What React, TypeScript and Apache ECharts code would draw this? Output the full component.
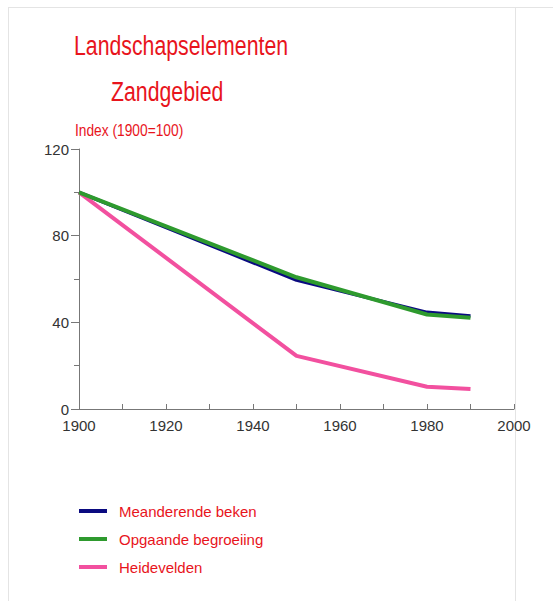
import React, { useEffect, useRef } from "react";
import * as echarts from "echarts";

const years = [1900, 1950, 1980, 1990];
const meanderendeBeken = [100, 59.5, 44.6, 42.9];
const opgaandeBegroeiing = [100, 60.8, 43.6, 42.1];
const heidevelden = [100, 24.5, 10.3, 9.2];
const seriesNames = ["Meanderende beken", "Opgaande begroeiing", "Heidevelden"];
const colors = ["#0a0a80", "#2e9a2e", "#f2509f"];

const FONT = "'Liberation Sans', Arial, sans-serif";

export default function App() {
  const ref = useRef<HTMLDivElement>(null);
  useEffect(() => {
    if (!ref.current) return;
    const chart = echarts.init(ref.current, undefined, { renderer: "svg" });
    const mk = (vals: number[]) => years.map((y, i) => [y, vals[i]]);
    const allData = [meanderendeBeken, opgaandeBegroeiing, heidevelden];
    chart.setOption({
      animation: false,
      backgroundColor: "#ffffff",
      grid: { left: 79, right: 46, top: 149, bottom: 192, containLabel: false },
      xAxis: {
        type: "value",
        min: 1900,
        max: 2000,
        interval: 20,
        axisLine: { show: true, lineStyle: { color: "#777", width: 1 } },
        axisTick: { show: true, inside: true, length: 5, lineStyle: { color: "#777" } },
        minorTick: { show: true, splitNumber: 2, length: 5, lineStyle: { color: "#777" } },
        splitLine: { show: false },
        axisLabel: { color: "#333", fontFamily: FONT, fontSize: 15, margin: 9, formatter: (v: number) => String(v) },
      },
      yAxis: {
        type: "value",
        min: 0,
        max: 120,
        interval: 40,
        axisLine: { show: true, lineStyle: { color: "#777", width: 1 } },
        axisTick: { show: true, inside: false, length: 8, lineStyle: { color: "#777" } },
        minorTick: { show: true, splitNumber: 2, length: 5, lineStyle: { color: "#777" } },
        splitLine: { show: false },
        axisLabel: { color: "#333", fontFamily: FONT, fontSize: 15, margin: 10 },
      },
      legend: {
        orient: "vertical",
        left: 79,
        top: 501,
        padding: 0,
        icon: "rect",
        itemWidth: 28,
        itemHeight: 4,
        itemGap: 8,
        textStyle: { color: "#e8141c", fontFamily: FONT, fontSize: 15, lineHeight: 20, padding: [0, 0, 0, 7] },
        data: seriesNames,
      },
      series: seriesNames.map((name, i) => ({
        name,
        type: "line",
        data: mk(allData[i]),
        symbol: "none",
        color: colors[i],
        lineStyle: { color: colors[i], width: i === 0 ? 3.5 : 4 },
        z: i === 1 ? 3 : 2,
      })),
      graphic: [
        { type: "line", shape: { x1: 8, y1: 7.5, x2: 553, y2: 7.5 }, style: { stroke: "#e4e4e4", lineWidth: 1 }, silent: true },
        { type: "line", shape: { x1: 8.5, y1: 7, x2: 8.5, y2: 601 }, style: { stroke: "#e4e4e4", lineWidth: 1 }, silent: true },
        { type: "line", shape: { x1: 515.5, y1: 7, x2: 515.5, y2: 601 }, style: { stroke: "#e4e4e4", lineWidth: 1 }, silent: true },
        { type: "text", x: 74, y: 45, scaleX: 0.76, style: { text: "Landschapselementen", fill: "#e8141c", font: `28px ${FONT}`, verticalAlign: "middle", align: "left" } },
        { type: "text", x: 111, y: 91, scaleX: 0.76, style: { text: "Zandgebied", fill: "#e8141c", font: `28px ${FONT}`, verticalAlign: "middle", align: "left" } },
        { type: "text", x: 75, y: 130, scaleX: 0.81, style: { text: "Index (1900=100)", fill: "#e8141c", font: `17px ${FONT}`, verticalAlign: "middle", align: "left" } },
      ],
    });
    return () => chart.dispose();
  }, []);
  return <div ref={ref} style={{ width: 560, height: 601, position: "absolute", left: 0, top: 0 }} />;
}
